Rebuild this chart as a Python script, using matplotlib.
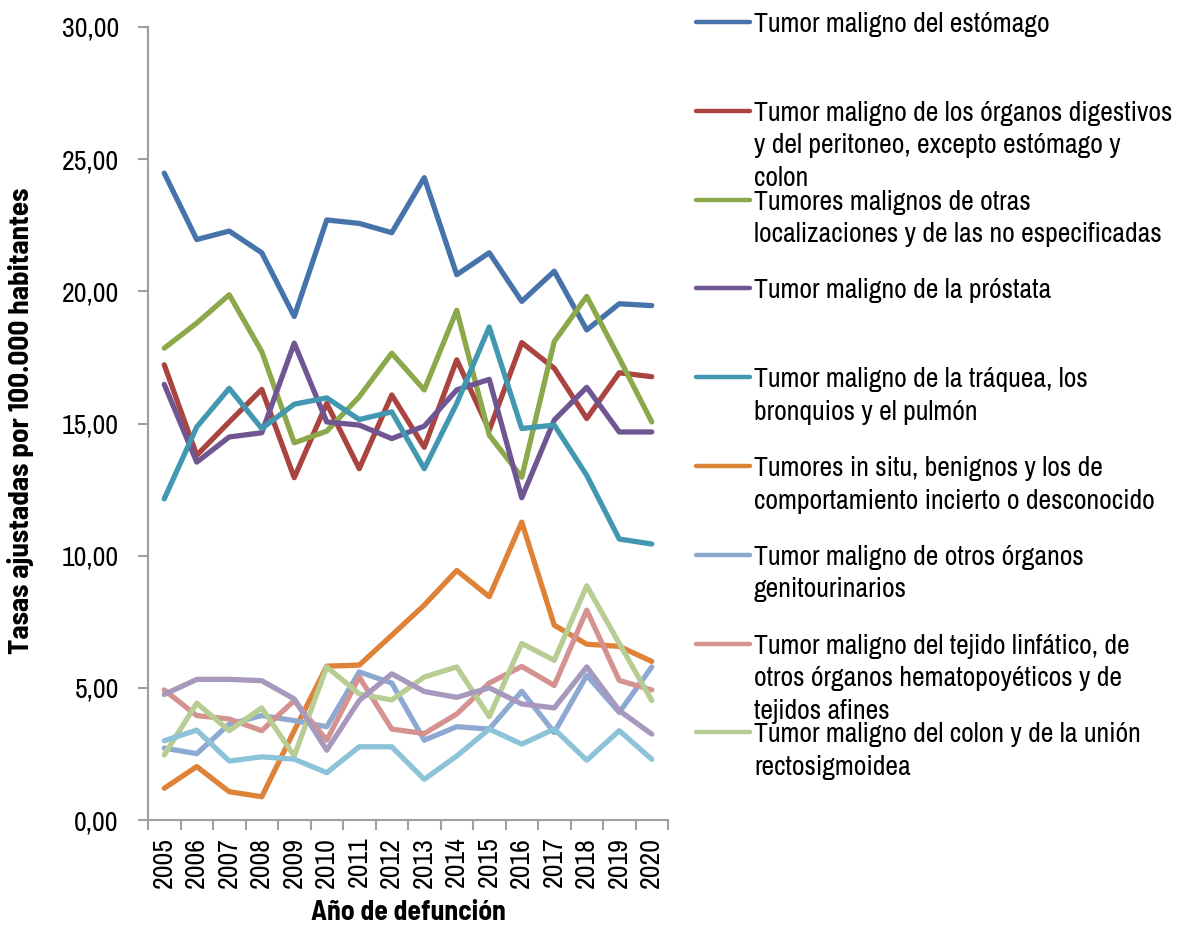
import numpy as np
import matplotlib
matplotlib.use('Agg')
import matplotlib.pyplot as plt
from matplotlib.lines import Line2D
from matplotlib.ticker import FuncFormatter, FixedLocator

# fuente estrecha parecida a Arial Narrow
plt.rcParams['font.family'] = ['Archivo Narrow', 'Liberation Sans', 'DejaVu Sans']
plt.rcParams['font.size'] = 20

# datos
anios = ['2005', '2006', '2007', '2008', '2009', '2010', '2011', '2012',
         '2013', '2014', '2015', '2016', '2017', '2018', '2019', '2020']

estomago = [24.47, 21.96, 22.28, 21.46, 19.05, 22.70, 22.57, 22.22, 24.30, 20.63, 21.46, 19.62, 20.76, 18.54, 19.53, 19.46]
digestivos = [17.22, 13.80, 15.06, 16.29, 12.95, 15.76, 13.29, 16.08, 14.10, 17.41, 14.75, 18.06, 17.09, 15.19, 16.92, 16.77]
otras = [17.85, 18.80, 19.87, 17.72, 14.27, 14.71, 16.01, 17.66, 16.27, 19.28, 14.56, 12.97, 18.10, 19.81, 17.47, 15.06]
prostata = [16.48, 13.54, 14.49, 14.65, 18.04, 15.06, 14.94, 14.43, 14.90, 16.27, 16.67, 12.19, 15.13, 16.37, 14.68, 14.68]
traquea = [12.15, 14.87, 16.33, 14.81, 15.73, 15.97, 15.15, 15.44, 13.29, 15.76, 18.65, 14.81, 14.94, 13.04, 10.63, 10.44]
in_situ = [1.20, 2.02, 1.07, 0.88, 3.38, 5.82, 5.86, 6.99, 8.13, 9.44, 8.45, 11.27, 7.37, 6.65, 6.57, 6.00]
genito = [2.72, 2.51, 3.63, 3.95, 3.76, 3.53, 5.60, 5.18, 3.02, 3.53, 3.44, 4.87, 3.31, 5.47, 4.07, 5.79]
linfatico = [4.92, 3.95, 3.82, 3.38, 4.52, 3.02, 5.41, 3.44, 3.27, 4.01, 5.18, 5.81, 5.09, 7.94, 5.28, 4.92]
colon = [2.46, 4.42, 3.38, 4.24, 2.42, 5.79, 4.77, 4.54, 5.41, 5.79, 3.91, 6.68, 6.04, 8.86, 6.68, 4.52]
serie_10 = [4.75, 5.32, 5.32, 5.27, 4.58, 2.64, 4.52, 5.53, 4.86, 4.64, 5.00, 4.39, 4.24, 5.79, 4.14, 3.25]
serie_11 = [3.00, 3.40, 2.23, 2.39, 2.30, 1.79, 2.77, 2.77, 1.54, 2.42, 3.44, 2.87, 3.44, 2.26, 3.38, 2.30]

etiquetas = [
    'Tumor maligno del estómago',
    'Tumor maligno de los órganos digestivos\ny del peritoneo, excepto estómago y\ncolon',
    'Tumores malignos de otras\nlocalizaciones y de las no especificadas',
    'Tumor maligno de la próstata',
    'Tumor maligno de la tráquea, los\nbronquios y el pulmón',
    'Tumores in situ, benignos y los de\ncomportamiento incierto o desconocido',
    'Tumor maligno de otros órganos\ngenitourinarios',
    'Tumor maligno del tejido linfático, de\notros órganos hematopoyéticos y de\ntejidos afines',
    'Tumor maligno del colon y de la unión\nrectosigmoidea',
]

series = [estomago, digestivos, otras, prostata, traquea, in_situ, genito, linfatico, colon, serie_10, serie_11]
colores = ['#4674AA', '#AA4440', '#8BA84A', '#6F5592', '#4198B0', '#DE8237',
           '#8EA9D1', '#D49290', '#B7CD93', '#A699BD', '#8CC3D8']

W, H = 1182, 926
fig = plt.figure(figsize=(W / 100, H / 100), dpi=100)
ax = fig.add_axes([148 / W, 1 - 820 / H, 520 / W, 793 / H])

x = np.arange(len(anios))
for s, c in zip(series, colores):
    ax.plot(x, s, color=c, lw=3.8, solid_joinstyle='round', solid_capstyle='round')

gris = '#9E9E9E'
ax.set_xlim(-0.5, len(anios) - 0.5)
ax.set_ylim(0, 30)
ax.set_yticks(np.arange(0, 31, 5))
ax.yaxis.set_major_formatter(FuncFormatter(lambda v, p: f'{v:.2f}'.replace('.', ',')))
ax.set_xticks(x)
ax.set_xticklabels(anios, rotation=90)
ax.xaxis.set_minor_locator(FixedLocator(np.arange(-0.5, len(anios), 1)))
ax.tick_params(axis='x', which='major', length=0, pad=12)
ax.tick_params(axis='x', which='minor', length=7, width=1.5, color=gris)
ax.tick_params(axis='y', length=7, width=1.5, color=gris, pad=14)
for lado in ['top', 'right']:
    ax.spines[lado].set_visible(False)
for lado in ['left', 'bottom']:
    ax.spines[lado].set_color(gris)
    ax.spines[lado].set_linewidth(1.5)

negrita = dict(family=['Barlow Semi Condensed', 'DejaVu Sans'], fontweight='bold')
fig.text(21 / W, 1 - 421 / H, 'Tasas ajustadas por 100.000 habitantes', rotation=90,
         ha='center', va='center', fontsize=21, **negrita)
fig.text(408 / W, 1 - 913 / H, 'Año de defunción', ha='center', va='center', **negrita)

# leyenda a la derecha (solo nueve entradas visibles), una línea de texto cada vez
for i, (lab, c) in enumerate(zip(etiquetas, colores)):
    y = 22 + i * 88.8
    fig.add_artist(Line2D([696 / W, 750 / W], [1 - y / H, 1 - y / H], color=c, lw=3.2,
                          solid_capstyle='round', transform=fig.transFigure))
    for k, linea in enumerate(lab.split('\n')):
        yl = y + k * 32.5
        fig.text(754 / W, 1 - yl / H, linea, ha='left', va='center_baseline')

fig.savefig('out.png', dpi=100)
